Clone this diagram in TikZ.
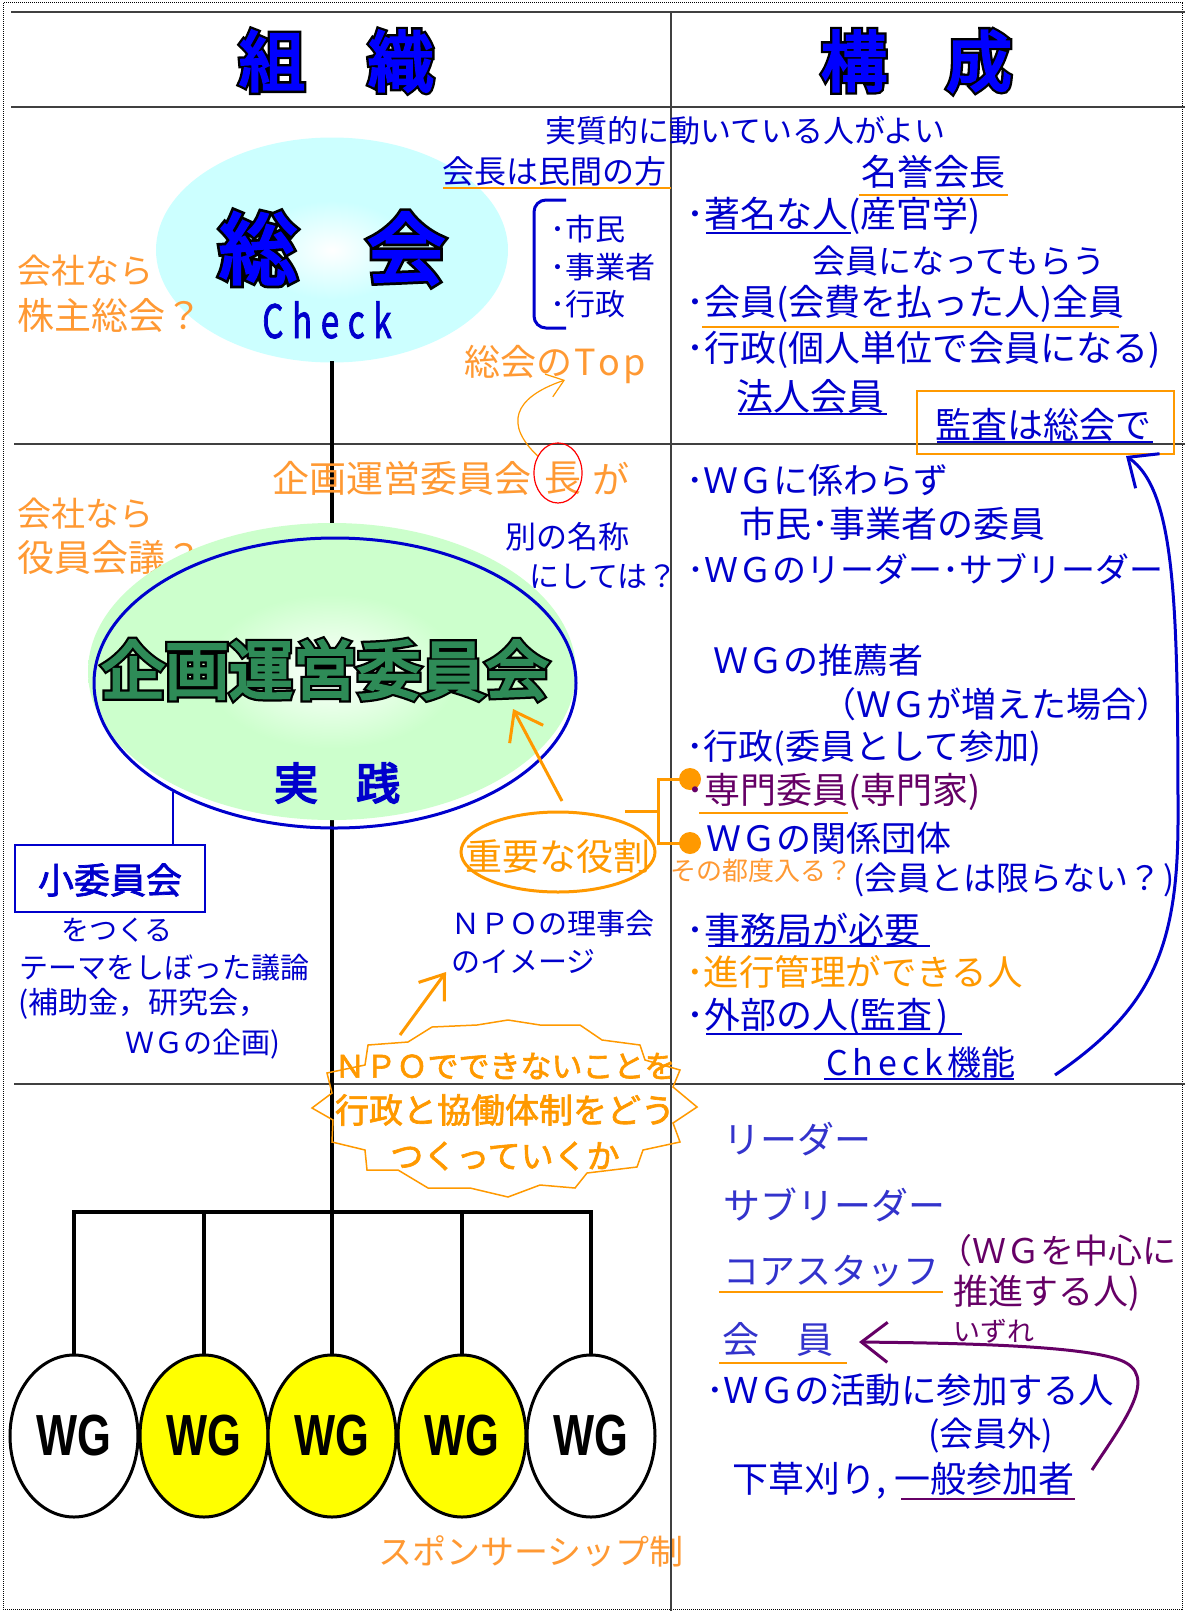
\documentclass[tikz,border=0pt]{standalone}
\usepackage{fontspec}
\usepackage{graphicx}
\setmainfont{Noto Sans CJK JP}
\newfontfamily\jpb[FakeBold=2]{Noto Sans CJK JP}
\newfontfamily\jph[FakeBold=4]{Noto Sans CJK JP}
\newfontfamily\jpo[FakeBold=11]{Noto Sans CJK JP}
\newfontfamily\wgf{Liberation Sans}
\usetikzlibrary{shapes.geometric,arrows.meta}
\definecolor{jblue}{RGB}{0,0,204}
\definecolor{pblue}{RGB}{0,0,255}
\definecolor{lblue}{RGB}{51,51,204}
\definecolor{orL}{RGB}{255,153,51}
\definecolor{orS}{RGB}{255,153,0}
\definecolor{purp}{RGB}{102,0,102}
\definecolor{kgreen}{RGB}{46,139,87}
\definecolor{cyanf}{RGB}{204,255,255}
\definecolor{greenf}{RGB}{204,255,204}
\definecolor{rulec}{RGB}{64,64,64}
\definecolor{wgyellow}{RGB}{255,255,0}
\pgfdeclareradialshading{cyanglow}{\pgfpoint{0bp}{0bp}}{color(0bp)=(white); color(11bp)=(cyanf); color(50bp)=(cyanf)}
\pgfdeclareradialshading{greenglow}{\pgfpoint{0bp}{0bp}}{color(0bp)=(white); color(13bp)=(greenf); color(50bp)=(greenf)}
\tikzset{
  tx/.style={inner sep=0pt, anchor=west},
  fs/.style={font=\fontsize{#1}{#1}\selectfont},
  hrule/.style={draw=rulec, line width=2.5pt},
  trunk/.style={draw=black, line width=3.5pt, line cap=rect},
  wgnode/.style={ellipse, draw=black, line width=3pt, minimum width=128pt, minimum height=162pt, inner sep=0pt},
  ul/.style={line width=2pt},
  oarrow/.style={draw=orS, line width=3pt, -{Straight Barb[length=26pt,width=38pt]}},
  othin/.style={draw=orS, line width=1.2pt, -{Straight Barb[length=16pt,width=24pt]}},
  barrow/.style={draw=jblue, line width=3pt, -{Straight Barb[length=24pt,width=42pt]}},
  parrow/.style={draw=purp, line width=3pt, -{Straight Barb[length=26pt,width=40pt]}},
}
\newcommand\outl[6]{%
  \node[inner sep=0pt, anchor=base] (#1) at (#2) {\fontsize{#3}{#3}\selectfont\jpo\color{black}\scalebox{#6}[1]{#5}};
  \node[inner sep=0pt, anchor=base] at (#1.base) {\fontsize{#3}{#3}\selectfont\jph\color{#4}\scalebox{#6}[1]{#5}};}
\begin{document}
\begin{tikzpicture}[x=1pt,y=-1pt]
\useasboundingbox (0,0) rectangle (1185,1611);
\fill[white] (0,0) rectangle (1185,1611);
% frame
\draw[black, densely dotted, line width=1pt] (3,3) rectangle (1182,1609);
\draw[hrule] (11,12) -- (1185,12);
\draw[hrule] (11,107) -- (1185,107);
\draw[hrule, line width=2pt] (14,444) -- (1185,444);
\draw[hrule, line width=2pt] (14,1084) -- (1185,1084);
\draw[draw=rulec, line width=1.5pt] (671,12) -- (671,1611);
% headers
\outl{kumi}{272,86}{66}{pblue}{組}{1}
\outl{shiki}{401,86}{66}{pblue}{織}{1}
\outl{kou}{854,86}{66}{pblue}{構}{1}
\outl{sei}{979,86}{66}{pblue}{成}{1}
% soukai
\node[ellipse, shading=cyanglow, minimum width=352pt, minimum height=225pt, inner sep=0pt] (soukai) at (332,250) {};
\outl{sou}{258,278}{78}{pblue}{総}{1}
\outl{kai}{406,278}{78}{pblue}{会}{1}
\node[inner sep=0pt, fs=46, text=jblue] (check) at (327,320) {\jpb\scalebox{0.72}[1]{C\kern12pt h\kern12pt e\kern12pt c\kern12pt k}};
% trunk
\coordinate (bar) at (332,1212);
\draw[trunk] (soukai.south) -- (bar);
% top area texts
\node[tx,fs=31,text=jblue] (jisshitsu) at (545,131) {実質的に動いている人がよい};
\node[tx,fs=32,text=jblue] (kaicho) at (442,171) {会長は民間の方};
\draw[orS,ul] (443,188) -- (671,188);
\draw[jblue, line width=3pt, rounded corners=12pt] (566,200) -- (534,200) -- (534,328) -- (566,328);
\node[tx,fs=30,text=jblue] (shimin) at (550,229) {･市民};
\node[tx,fs=30,text=jblue] (jigyo) at (550,267) {･事業者};
\node[tx,fs=30,text=jblue] (gyosei) at (550,304) {･行政};
\node[tx,fs=34,text=orL] (kaisha1) at (17,271) {会社なら};
\node[tx,fs=37,text=orL] (kabunushi) at (17,315) {株主総会？};
\node[tx,fs=36,text=orL] (soutop) at (464,364) {総会の\kern2pt T\kern3pt o\kern3pt p};
% right top
\node[tx,fs=36,text=jblue] (meiyo) at (861,172) {名誉会長};
\draw[orS,ul] (859,195) -- (1008,195);
\node[tx,fs=36,text=jblue] (chomei) at (686,216) {･著名な人(産官学)};
\draw[jblue,ul] (706,233) -- (851,233);
\node[tx,fs=33,text=jblue] (kaiin1) at (812,261) {会員になってもらう};
\node[tx,fs=36,text=jblue] (kaiin2) at (686,304) {･会員(会費を払った人)全員};
\draw[orS,ul] (702,327) -- (1119,327);
\node[tx,fs=36,text=jblue] (gyosei2) at (686,350) {･行政(個人単位で会員になる)};
\node[tx,fs=37,text=jblue] (hojin) at (736,396) {法人会員};
\draw[jblue,ul] (738,414) -- (887,414);
\node[draw=orS, line width=2pt, minimum width=257pt, minimum height=63pt, inner sep=0pt] (kansa) at (1045.5,422.5) {};
\node[tx,fs=36,text=jblue] (kansaT) at (935,425) {監査は総会で};
\draw[jblue,ul] (937,442) -- (1153,442);
% middle left
\node[tx,fs=37,text=orL] (kikakucho) at (272,478) {企画運営委員会};
\node[inner sep=0pt, fs=37, text=orL] (cho) at (563,478) {長};
\node[inner sep=0pt, fs=37, text=orL] (ga) at (611,478) {が};
\node[ellipse, draw=red, line width=1.2pt, minimum width=48pt, minimum height=60pt, inner sep=0pt] (choC) at (558,473) {};
\coordinate (tipTop) at (565,380);
\draw[othin] (choC.140) .. controls (505,425) and (512,398) .. (tipTop);
\node[tx,fs=34,text=orL] (kaisha2) at (17,514) {会社なら};
\node[tx,fs=37,text=orL] (yakuin) at (17,558) {役員会議？};
\node[tx,fs=31,text=jblue] (betsu) at (505,537) {別の名称};
\node[tx,fs=30,text=jblue] (nishite) at (529,577) {にしては？};
% kikaku ellipse
\node[ellipse, shading=greenglow, minimum width=488pt, minimum height=297pt, inner sep=0pt] (kikakuF) at (332,671.5) {};
\node[ellipse, draw=jblue, line width=3pt, minimum width=482pt, minimum height=290pt, inner sep=0pt] (kikaku) at (335,683) {};
\outl{kikakuT}{325,694}{64}{kgreen}{企画運営委員会}{1}
\node[inner sep=0pt, fs=44, text=jblue] (jitsu) at (296,783) {\jph 実};
\node[inner sep=0pt, fs=44, text=jblue] (sen) at (378,783) {\jph 践};
% sho iinkai
\node[draw=jblue, line width=1.5pt, minimum width=190pt, minimum height=67pt, inner sep=0pt] (sho) at (110,878.5) {};
\node[inner sep=0pt, fs=36, text=jblue] (shoT) at (110,880) {\jpb 小委員会};
\draw[jblue, line width=2.5pt] (kikaku.214) -- (kikaku.214 |- sho.north);
\node[tx,fs=28,text=jblue] (tsukuru) at (61,930) {をつくる};
\node[tx,fs=29,text=jblue] (theme) at (19,968) {テーマをしぼった議論};
\node[tx,fs=30,text=jblue] (hojo) at (18,1004) {(補助金，研究会，};
\node[tx,fs=29,text=jblue] (wgkikaku) at (125,1044) {ＷＧの企画)};
\node[tx,fs=29,text=jblue] (npo) at (451,924) {ＮＰＯの理事会};
\node[tx,fs=29,text=jblue] (image) at (451,961) {のイメージ};
% juyo
\node[ellipse, draw=orS, line width=3pt, minimum width=194pt, minimum height=80pt, inner sep=0pt] (juyo) at (558,852) {};
\node[inner sep=0pt, fs=37, text=orS] (juyoT) at (558,856) {重要な役割};
\coordinate (juyoS) at (562,801);
\coordinate (tipK) at (513,709);
\draw[oarrow] (juyoS) -- (tipK);
\node[circle, fill=orS, minimum size=22pt, inner sep=0pt] (d1) at (690,779) {};
\node[circle, fill=orS, minimum size=22pt, inner sep=0pt] (d2) at (690,843) {};
\coordinate (brS) at (625,811);
\coordinate (brM) at (658,811);
\draw[orS, line width=3pt] (brS) -- (brM);
\draw[orS, line width=3pt] (d1.center) -| (brM) |- (d2.center);
% middle right
\node[tx,fs=35,text=jblue] (kakawa) at (686,480) {･ＷＧに係わらず};
\node[tx,fs=36,text=jblue] (iin) at (739,524) {市民･事業者の委員};
\node[tx,fs=34,text=jblue] (leader) at (687,569) {･ＷＧのリーダー･サブリーダー};
\node[tx,fs=35,text=jblue] (suisen) at (713,660) {ＷＧの推薦者};
\node[tx,fs=35,text=jblue] (fueta) at (821,704) {（ＷＧが増えた場合）};
\node[tx,fs=35,text=jblue] (gyosei3) at (686,748) {･行政(委員として参加)};
\node[tx,fs=36,text=purp] (senmon) at (686,792) {･専門委員(専門家)};
\draw[orS,ul] (699,813) -- (848,813);
\node[tx,fs=35,text=jblue] (kankei) at (706,838) {ＷＧの関係団体};
\node[tx,fs=26,text=orL] (tsudo) at (670,871) {その都度入る？};
\node[tx,fs=33,text=jblue] (kagiranai) at (853,880) {(会員とは限らない？\kern2pt)};
\node[tx,fs=36,text=jblue] (jimu) at (686,930) {･事務局が必要};
\draw[jblue,ul] (708,946) -- (930,946);
\node[tx,fs=35.5,text=orS] (shinko) at (686,972) {･進行管理ができる人};
\node[tx,fs=36,text=jblue] (gaibu) at (686,1017) {･外部の人(監査\kern4pt)};
\draw[jblue,ul] (706,1034) -- (962,1034);
\node[tx,fs=34,text=jblue] (chk) at (826,1063) {C\kern5pt h\kern5pt e\kern5pt c\kern5pt k\kern4pt 機能};
\draw[jblue,ul] (824,1079) -- (1014,1079);
\coordinate (chkS) at (1055,1075);
\coordinate (kansaTip) at (1126,456);
\draw[barrow] (chkS) .. controls (1150,1010) and (1178,950) .. (1178,820) .. controls (1178,600) and (1175,490) .. (kansaTip);
% starburst
\draw[orS, line width=1.5pt, line join=miter] (508,1020) -- (540,1025) -- (580,1025) -- (602,1040) -- (640,1045) -- (645,1060) -- (680,1070) -- (673,1087) -- (697,1107) -- (673,1123) -- (680,1142) -- (643,1150) -- (637,1167) -- (587,1173) -- (575,1188) -- (540,1185) -- (508,1197) -- (470,1188) -- (428,1188) -- (398,1170) -- (367,1170) -- (365,1150) -- (332,1142) -- (333,1120) -- (312,1108) -- (332,1093) -- (327,1073) -- (365,1065) -- (368,1045) -- (408,1042) -- (432,1027) -- (477,1025) -- cycle;
\node[inner sep=0pt, fs=31, text=orS] (b1) at (505,1066) {\jpb ＮＰＯでできないことを};
\node[inner sep=0pt, fs=34, text=orS] (b2) at (505,1110) {\jpb 行政と協働体制をどう};
\node[inner sep=0pt, fs=33, text=orS] (b3) at (505,1156) {\jpb つくっていくか};
\coordinate (burstS) at (400,1035);
\coordinate (imageTip) at (446,972);
\draw[oarrow, -{Straight Barb[length=22pt,width=32pt]}] (burstS) -- (imageTip);
% WG
\node[wgnode, fill=white] (wg1) at (74,1436) {\wgf\bfseries\fontsize{58}{58}\selectfont\scalebox{0.75}[1]{WG}};
\node[wgnode, fill=wgyellow] (wg2) at (204,1436) {\wgf\bfseries\fontsize{58}{58}\selectfont\scalebox{0.75}[1]{WG}};
\node[wgnode, fill=wgyellow] (wg3) at (332,1436) {\wgf\bfseries\fontsize{58}{58}\selectfont\scalebox{0.75}[1]{WG}};
\node[wgnode, fill=wgyellow] (wg4) at (462,1436) {\wgf\bfseries\fontsize{58}{58}\selectfont\scalebox{0.75}[1]{WG}};
\node[wgnode, fill=white] (wg5) at (591,1436) {\wgf\bfseries\fontsize{58}{58}\selectfont\scalebox{0.75}[1]{WG}};
\draw[trunk, line cap=butt] (wg1.north) -- (wg1.north |- bar) -- (wg5.north |- bar) -- (wg5.north);
\draw[trunk, line cap=butt] (wg2.north) -- (wg2.north |- bar);
\draw[trunk, line cap=butt] (wg3.north) -- (bar);
\draw[trunk, line cap=butt] (wg4.north) -- (wg4.north |- bar);
\node[tx,fs=34,text=orL] (sponsor) at (378,1551) {スポンサーシップ制};
% bottom right
\node[tx,fs=37,text=lblue] (r1) at (723,1139) {リーダー};
\node[tx,fs=37,text=lblue] (r2) at (723,1205) {サブリーダー};
\node[tx,fs=36,text=lblue] (r3) at (723,1271) {コアスタッフ};
\draw[orS,ul] (719,1292) -- (943,1292);
\node[tx,fs=37,text=lblue] (r4) at (722,1339) {会　員};
\draw[orS,ul] (719,1363) -- (847,1363);
\node[tx,fs=34,text=purp] (p1) at (938,1251) {（ＷＧを中心に};
\node[tx,fs=35,text=purp] (p2) at (953,1293) {推進する人)};
\node[tx,fs=27,text=purp] (p3) at (953,1331) {いずれ};
\node[tx,fs=35.5,text=jblue] (katsudo) at (706,1390) {･ＷＧの活動に参加する人};
\node[tx,fs=34,text=jblue] (kaiingai) at (928,1436) {(会員外)};
\node[tx,fs=36,text=jblue] (shitakusa) at (732,1481) {下草刈り, 一般参加者};
\draw[purp,ul] (901,1499) -- (1075,1499);
\coordinate (ippanS) at (1092,1470);
\coordinate (kaiinTip) at (859,1342);
\draw[parrow] (ippanS) .. controls (1125,1420) and (1160,1375) .. (1120,1360) .. controls (1080,1345) and (950,1343) .. (kaiinTip);
\end{tikzpicture}
\end{document}
